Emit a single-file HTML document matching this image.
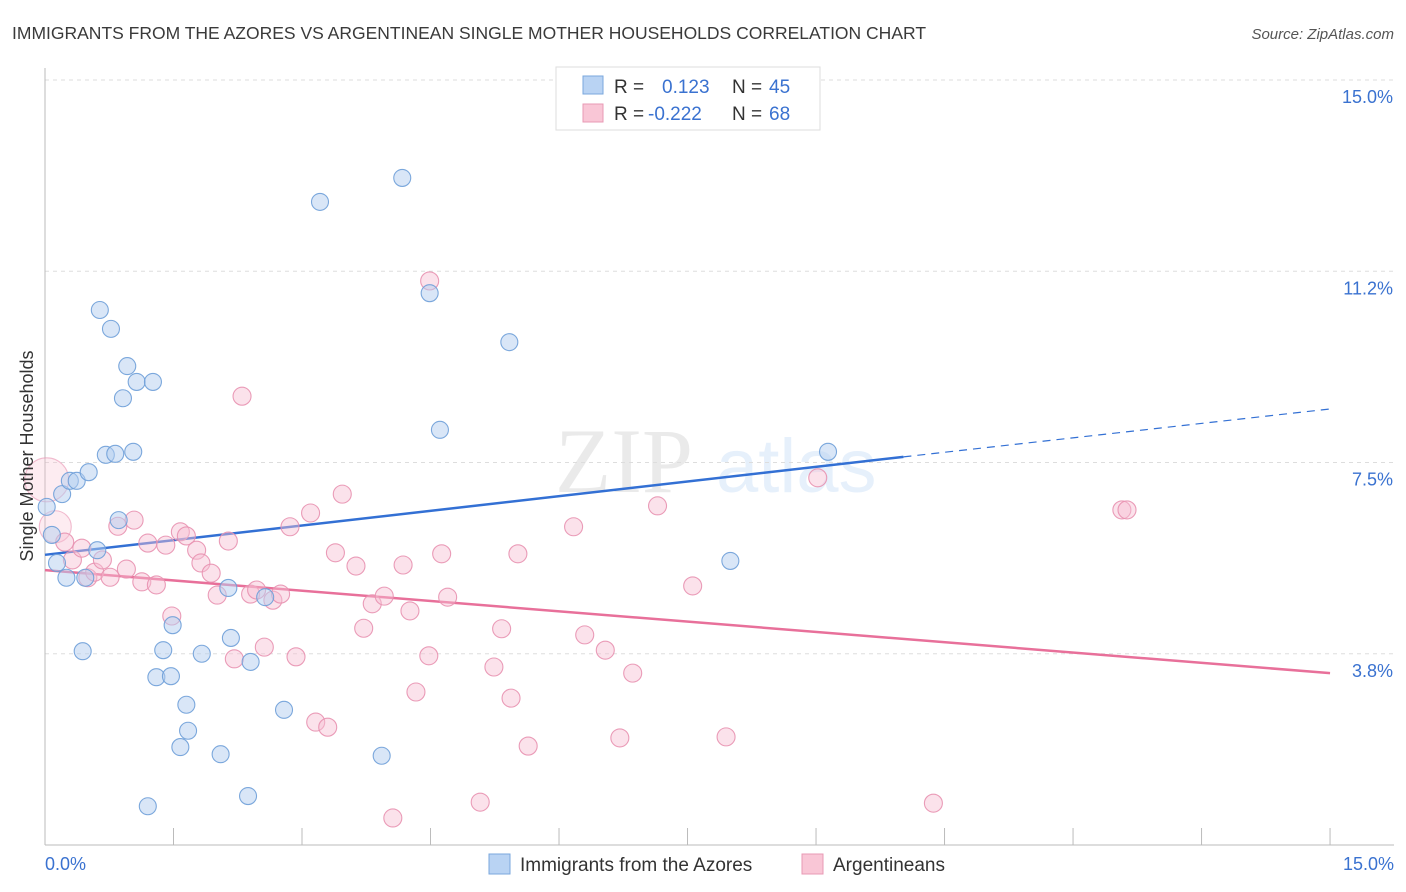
<!DOCTYPE html>
<html><head><meta charset="utf-8"><style>
body{margin:0;background:#fff;font-family:"Liberation Sans",sans-serif;}
svg{display:block}
</style></head><body>
<svg id="chart" width="1406" height="892" xmlns="http://www.w3.org/2000/svg">
<text x="12" y="39" font-size="17.5" fill="#3a3a3a">IMMIGRANTS FROM THE AZORES VS ARGENTINEAN SINGLE MOTHER HOUSEHOLDS CORRELATION CHART</text>
<text x="1394" y="39" font-size="15" fill="#555" font-style="italic" text-anchor="end">Source: ZipAtlas.com</text>
<g opacity="0.13">
<text x="555" y="492" font-size="92" font-family="Liberation Serif,serif" fill="#666">ZIP</text>
<text x="716" y="492" font-size="76" fill="#4a90e2">atlas</text>
</g>
<g id="grid"></g>
<g id="axes"></g>
<g id="lines"></g>
<g id="pts"></g>
<text x="33" y="456" font-size="18" fill="#333" text-anchor="middle" transform="rotate(-90 33 456)">Single Mother Households</text>
<g>
<rect x="556" y="67" width="264" height="63" fill="#fff" stroke="#ddd"/>
<rect x="583" y="76" width="20" height="18" fill="#b9d3f3" stroke="#7aa7dc"/>
<rect x="583" y="104" width="20" height="18" fill="#f9c6d6" stroke="#e89ab4"/>
<text x="614" y="93" font-size="19" fill="#333">R = </text><text x="662" y="93" font-size="19" fill="#3a72d0">0.123</text>
<text x="732" y="93" font-size="19" fill="#333">N = </text><text x="769" y="93" font-size="19" fill="#3a72d0">45</text>
<text x="614" y="120" font-size="19" fill="#333">R = </text><text x="648" y="120" font-size="19" fill="#3a72d0">-0.222</text>
<text x="732" y="120" font-size="19" fill="#333">N = </text><text x="769" y="120" font-size="19" fill="#3a72d0">68</text>
</g>
<g>
<rect x="489" y="854" width="21" height="20" fill="#b9d3f3" stroke="#7aa7dc"/>
<text x="520" y="871" font-size="19" fill="#333">Immigrants from the Azores</text>
<rect x="802" y="854" width="21" height="20" fill="#f9c6d6" stroke="#e89ab4"/>
<text x="833" y="871" font-size="19" fill="#333">Argentineans</text>
</g>
</svg>
<script>
const blueX=[0.02,0.08,0.14,0.20,0.25,0.29,0.37,0.44,0.51,0.61,0.64,0.71,0.77,0.82,0.86,0.91,0.96,1.03,1.07,1.20,1.26,1.30,1.38,1.47,1.49,1.58,1.65,1.67,1.83,2.05,2.14,2.17,2.37,2.40,2.57,2.79,3.21,3.93,4.17,4.49,4.61,5.42,8.00,9.14,0.47];
const blueY=[6.63,6.08,5.53,6.88,5.24,7.14,7.14,3.80,7.31,5.78,10.49,7.65,10.12,7.67,6.37,8.76,9.39,7.71,9.08,0.76,9.08,3.29,3.82,3.31,4.31,1.92,2.75,2.24,3.75,1.78,5.04,4.06,0.96,3.59,4.86,2.65,12.61,1.75,13.08,10.82,8.14,9.86,5.57,7.71,5.24];
const pinkX=[0.02,0.12,0.23,0.32,0.43,0.50,0.58,0.67,0.76,0.85,0.95,1.04,1.13,1.20,1.30,1.41,1.48,1.58,1.65,1.77,1.82,1.94,2.01,2.14,2.21,2.30,2.40,2.47,2.56,2.66,2.75,2.86,2.93,3.10,3.16,3.30,3.39,3.47,3.63,3.72,3.82,3.96,4.06,4.18,4.26,4.33,4.48,4.49,4.63,4.70,5.08,5.24,5.33,5.44,5.52,5.64,6.17,6.30,6.54,6.71,6.86,7.15,7.56,7.95,9.02,10.37,12.57,12.63];
const pinkY=[7.16,6.24,5.94,5.59,5.82,5.24,5.35,5.59,5.25,6.25,5.41,6.37,5.16,5.92,5.10,5.88,4.49,6.14,6.06,5.78,5.53,5.33,4.90,5.96,3.65,8.80,4.92,5.00,3.88,4.80,4.92,6.24,3.69,6.51,2.41,2.31,5.73,6.88,5.47,4.25,4.73,4.88,0.53,5.49,4.59,3.00,3.71,11.06,5.71,4.86,0.84,3.49,4.24,2.88,5.71,1.94,6.24,4.12,3.82,2.10,3.37,6.65,5.08,2.12,7.20,0.82,6.57,6.57];
const yTicks=[15.0,11.25,7.5,3.75];
const yTickLabels=["15.0%","11.2%","7.5%","3.8%"];
const blueTrend=[5.69,7.61,8.55];
const blueSolidEnd=10.02;
const pinkTrend=[5.39,3.37];
const NS="http://www.w3.org/2000/svg";
const X=v=>45+v*85.67, Y=v=>80+(15-v)*51.0;
function mk(tag,attrs,parent){const e=document.createElementNS(NS,tag);for(const k in attrs)e.setAttribute(k,attrs[k]);parent.appendChild(e);return e;}
const grid=document.getElementById('grid'),axes=document.getElementById('axes'),lines=document.getElementById('lines'),pts=document.getElementById('pts');
yTicks.forEach((t,i)=>{
 const l=mk('line',{x1:45,x2:1394,y1:Y(t),y2:Y(t),stroke:'#ddd','stroke-dasharray':'4,4'},grid);
 
 
 const tx=mk('text',{x:1393,y:Y(t)+23,'font-size':18,fill:'#3a72d0','text-anchor':'end'},axes);
 tx.textContent=yTickLabels[i];
 
 
});
mk('line',{x1:45,x2:45,y1:68,y2:845,stroke:'#bbb'},axes);
mk('line',{x1:45,x2:1394,y1:845,y2:845,stroke:'#bbb'},axes);
for(let i=1;i<=10;i++){const l=mk('line',{x1:X(i*1.5),x2:X(i*1.5),y1:828,y2:845,stroke:'#bbb'},axes);
 
 }
const xl0=mk('text',{x:45,y:870,'font-size':18,fill:'#3a72d0'},axes);xl0.textContent='0.0%';


const xl1=mk('text',{x:1394,y:870,'font-size':18,fill:'#3a72d0','text-anchor':'end'},axes);xl1.textContent='15.0%';


pinkX.forEach((x,i)=>{const r=i==0?22:(i==1?16:9);
 const c=mk('circle',{cx:X(x),cy:Y(pinkY[i]),r:r,fill:'#f7bfd2','fill-opacity':i<2?0.3:0.45,stroke:'#e891b0','stroke-opacity':i<2?0.6:0.9,'stroke-width':1.1},pts);
 
 });
blueX.forEach((x,i)=>{
 const c=mk('circle',{cx:X(x),cy:Y(blueY[i]),r:8.5,fill:'#b3cef0','fill-opacity':0.5,stroke:'#6e9fd8','stroke-opacity':0.9,'stroke-width':1.1},pts);
 
 });
const b1=mk('line',{x1:X(0),y1:Y(blueTrend[0]),x2:X(blueSolidEnd),y2:Y(blueTrend[1]),stroke:'#3370d4','stroke-width':2.5},lines);


const b2=mk('line',{x1:X(blueSolidEnd),y1:Y(blueTrend[1]),x2:X(15),y2:Y(blueTrend[2]),stroke:'#3370d4','stroke-width':1.2,'stroke-dasharray':'8,6'},lines);


const p1=mk('line',{x1:X(0),y1:Y(pinkTrend[0]),x2:X(15),y2:Y(pinkTrend[1]),stroke:'#e8709a','stroke-width':2.5},lines);


</script>
</body></html>
